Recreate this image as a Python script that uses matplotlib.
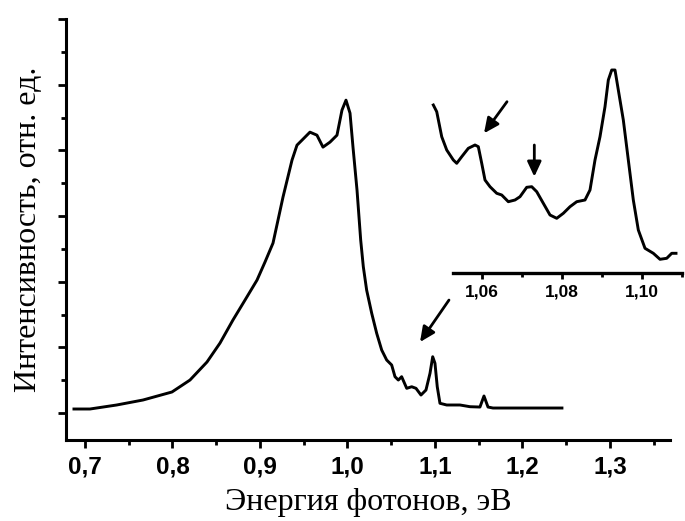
import matplotlib
matplotlib.use("Agg")
import matplotlib.pyplot as plt
from matplotlib.ticker import MultipleLocator, FixedLocator, FuncFormatter

# Main spectrum (photon energy, eV ; intensity, arb. units)
energy = [0.6874, 0.7057, 0.7362, 0.7663, 0.7994, 0.8200, 0.8394, 0.8543, 0.8691,
          0.8829, 0.8966, 0.9057, 0.9149, 0.9263, 0.9366, 0.9423, 0.9480, 0.9571,
          0.9651, 0.9720, 0.9800, 0.9880, 0.9937, 0.9983, 1.0029, 1.0063, 1.0109,
          1.0151, 1.0181, 1.0219, 1.0277, 1.0334, 1.0391, 1.0448, 1.0505, 1.0543,
          1.0581, 1.0619, 1.0677, 1.0734, 1.0783, 1.0840, 1.0897, 1.0943, 1.0974,
          1.1000, 1.1026, 1.1057, 1.1134, 1.1286, 1.1400, 1.1514, 1.1560, 1.1606,
          1.1663, 1.1971, 1.2257, 1.2451]
intensity = [0.061, 0.061, 0.122, 0.198, 0.320, 0.502, 0.776, 1.065, 1.416,
             1.720, 2.024, 2.298, 2.588, 3.288, 3.851, 4.079, 4.155, 4.277,
             4.231, 4.049, 4.125, 4.231, 4.612, 4.764, 4.566, 4.049, 3.394,
             2.633, 2.227, 1.872, 1.518, 1.213, 0.959, 0.807, 0.731, 0.553,
             0.502, 0.553, 0.376, 0.400, 0.376, 0.274, 0.350, 0.604, 0.857,
             0.757, 0.400, 0.148, 0.122, 0.122, 0.096, 0.091, 0.259, 0.091,
             0.076, 0.076, 0.076, 0.076]

# Inset (zoomed region)
inset_energy = [1.04783, 1.04868, 1.04993, 1.05118, 1.05283, 1.05368, 1.05493, 1.05658,
                1.05825, 1.05908, 1.05993, 1.06075, 1.06200, 1.06368, 1.06493, 1.06658,
                1.06825, 1.06950, 1.07118, 1.07243, 1.07368, 1.07533, 1.07700, 1.07868,
                1.08033, 1.08200, 1.08368, 1.08575, 1.08700, 1.08825, 1.08950, 1.09075,
                1.09158, 1.09243, 1.09325, 1.09408, 1.09533, 1.09658, 1.09783, 1.09908,
                1.10075, 1.10283, 1.10450, 1.10618, 1.10743, 1.10850]
inset_intensity = [16.8, 16.13, 13.63, 12.3, 11.3, 10.97, 11.63, 12.47,
                   12.8, 12.63, 10.97, 9.3, 8.63, 7.97, 7.8, 7.13,
                   7.3, 7.63, 8.57, 8.63, 8.13, 6.97, 5.8, 5.47,
                   5.97, 6.63, 7.13, 7.3, 8.3, 11.3, 13.63, 16.63,
                   19.3, 20.3, 20.3, 18.3, 15.3, 11.3, 7.3, 4.3,
                   2.47, 1.97, 1.37, 1.47, 1.97, 1.97]

main_xticks = [0.7, 0.8, 0.9, 1.0, 1.1, 1.2, 1.3]
inset_xticks = [1.06, 1.08, 1.10]
inset_minor = [1.07, 1.09, 1.11]

W, H = 685, 521
fig = plt.figure(figsize=(W / 100, H / 100), dpi=100)

def frac(l, r, t, b):
    return [l / W, 1 - b / H, (r - l) / W, (b - t) / H]

ax = fig.add_axes(frac(66, 670, 19, 440))
ax.plot(energy, intensity, color="black", lw=2.1, solid_joinstyle="round")
ax.set_xlim(0.6783, 1.3686)
ax.set_ylim(-0.411, 6.0)
for s in ("top", "right"):
    ax.spines[s].set_visible(False)
for s in ("left", "bottom"):
    ax.spines[s].set_linewidth(2.2)
ax.xaxis.set_major_locator(FixedLocator(main_xticks))
ax.xaxis.set_minor_locator(MultipleLocator(0.05))
ax.yaxis.set_major_locator(MultipleLocator(1))
ax.yaxis.set_minor_locator(MultipleLocator(0.5))
ax.yaxis.set_major_formatter(FuncFormatter(lambda v, p: ""))
ax.xaxis.set_major_formatter(FuncFormatter(lambda v, p: f"{v:.1f}".replace(".", ",")))
ax.tick_params(axis="both", which="major", direction="out", length=6, width=2.0)
ax.tick_params(axis="both", which="minor", direction="out", length=3.5, width=2.0)
ax.tick_params(axis="x", which="major", pad=5)
for lab in ax.get_xticklabels():
    lab.set_fontfamily("Liberation Sans")
    lab.set_fontweight("bold")
    lab.set_fontsize(17.5)
ax.set_xlabel("Энергия фотонов, эВ", family="Liberation Serif", fontsize=23, labelpad=7)
ax.set_ylabel("Интенсивность, отн. ед.", family="Liberation Serif", fontsize=23, labelpad=7)

ax.annotate("", xy=(1.0829, 1.081), xytext=(1.116, 1.72),
            arrowprops=dict(arrowstyle="-|>,head_length=0.9,head_width=0.42",
                            color="black", lw=2.0, shrinkA=0, shrinkB=0))

# Inset
ins = fig.add_axes(frac(430, 685, 60, 273))
ins.patch.set_alpha(0)
ins.plot(inset_energy, inset_intensity, color="black", lw=2.1, solid_joinstyle="round")
ins.set_xlim(1.047, 1.11075)
ins.set_ylim(0, 21.3)
for s in ("top", "right", "left"):
    ins.spines[s].set_visible(False)
ins.spines["bottom"].set_linewidth(2.4)
ins.spines["bottom"].set_bounds(1.0528, 1.1100)
ins.set_yticks([])
ins.xaxis.set_major_locator(FixedLocator(inset_xticks))
ins.xaxis.set_minor_locator(FixedLocator(inset_minor))
ins.xaxis.set_major_formatter(FuncFormatter(lambda v, p: f"{v:.2f}".replace(".", ",")))
ins.tick_params(axis="x", which="major", direction="out", length=4, width=2.0, pad=4)
ins.tick_params(axis="x", which="minor", direction="out", length=3, width=2.0)
for lab in ins.get_xticklabels():
    lab.set_fontfamily("Liberation Sans")
    lab.set_fontweight("bold")
    lab.set_fontsize(12.5)

ins.annotate("", xy=(1.0605, 13.97), xytext=(1.06625, 17.13),
             arrowprops=dict(arrowstyle="-|>,head_length=0.9,head_width=0.42",
                             color="black", lw=2.0, shrinkA=0, shrinkB=0))
ins.annotate("", xy=(1.07308, 9.63), xytext=(1.07308, 12.8),
             arrowprops=dict(arrowstyle="-|>,head_length=0.9,head_width=0.42",
                             color="black", lw=2.0, shrinkA=0, shrinkB=0))

fig.savefig("out.png", dpi=100)
